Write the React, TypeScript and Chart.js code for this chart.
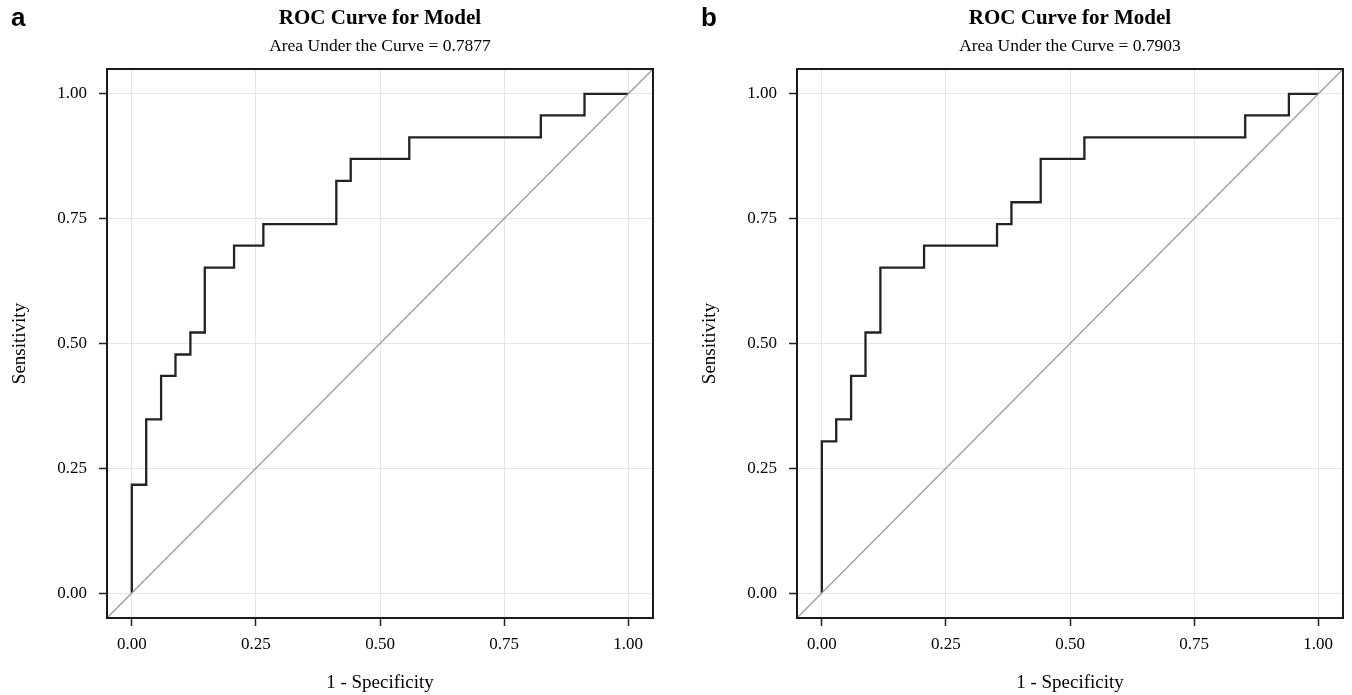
import React, { useEffect, useRef } from "react";
import { Chart, registerables } from "chart.js";

Chart.register(...registerables);

// ---- data ----
const panelLabels = ["a", "b"];
const chartTitle = "ROC Curve for Model";
const aucLabels = ["0.7877", "0.7903"];
const tickValues = [0, 0.25, 0.5, 0.75, 1];
const axisRange = [-0.05, 1.05];
const xAxisTitle = "1 - Specificity";
const yAxisTitle = "Sensitivity";

// Panel a: ROC curve corner points (1 - specificity, sensitivity)
const fprA = [0, 0, 0.029, 0.059, 0.088, 0.118, 0.147, 0.206, 0.265, 0.412, 0.441, 0.559, 0.824, 0.912, 1];
const tprA = [0, 0.217, 0.348, 0.435, 0.478, 0.522, 0.652, 0.696, 0.739, 0.826, 0.87, 0.913, 0.957, 1, 1];

// Panel b
const fprB = [0, 0, 0.029, 0.059, 0.088, 0.118, 0.206, 0.353, 0.382, 0.441, 0.529, 0.853, 0.941, 1];
const tprB = [0, 0.304, 0.348, 0.435, 0.522, 0.652, 0.696, 0.739, 0.783, 0.87, 0.913, 0.957, 1, 1];

const SERIF = "'Liberation Serif', 'Times New Roman', serif";

type RocProps = {
  fpr: number[];
  tpr: number[];
  auc: string;
  width: number;
  rightPad: number;
};

function RocChart({ fpr, tpr, auc, width, rightPad }: RocProps) {
  const ref = useRef<HTMLCanvasElement | null>(null);

  useEffect(() => {
    if (!ref.current) return;
    const framePlugin = {
      id: "frame",
      afterDatasetsDraw(chart: any) {
        const { ctx, chartArea: a } = chart;
        ctx.save();
        ctx.strokeStyle = "#1a1a1a";
        ctx.lineWidth = 2;
        ctx.strokeRect(a.left, a.top, a.right - a.left, a.bottom - a.top);
        ctx.restore();
      },
    };
    const tickFont = { family: SERIF, size: 17 };
    const titleFont = { family: SERIF, size: 19 };
    const chart = new Chart(ref.current, {
      type: "scatter",
      data: {
        datasets: [
          {
            data: axisRange.map((v) => ({ x: v, y: v })),
            showLine: true,
            borderColor: "#9c9c9c",
            borderWidth: 1.3,
            pointRadius: 0,
          },
          {
            data: fpr.map((x, i) => ({ x, y: tpr[i] })),
            showLine: true,
            stepped: "before",
            borderColor: "#222222",
            borderWidth: 2.3,
            pointRadius: 0,
          },
        ],
      },
      options: {
        animation: false,
        responsive: false,
        maintainAspectRatio: false,
        events: [],
        layout: { padding: { left: 0, right: rightPad, top: 0, bottom: 0 } },
        plugins: {
          legend: { display: false },
          tooltip: { enabled: false },
          title: {
            display: true,
            fullSize: false,
            text: chartTitle,
            color: "#000",
            font: { family: SERIF, size: 21, weight: "bold" },
            padding: { top: 6.4, bottom: 3.9 },
          },
          subtitle: {
            display: true,
            fullSize: false,
            text: `Area Under the Curve = ${auc}`,
            color: "#000",
            font: { family: SERIF, size: 17.5 },
            padding: { top: 0, bottom: 12.5 },
          },
        },
        scales: {
          x: {
            type: "linear",
            min: axisRange[0],
            max: axisRange[1],
            afterBuildTicks: (s: any) => {
              s.ticks = tickValues.map((v) => ({ value: v }));
            },
            afterFit: (s: any) => {
              s.height = 77;
            },
            ticks: {
              autoSkip: false,
              maxRotation: 0,
              color: "#000",
              font: tickFont,
              padding: 8.8,
              callback: (v: any) => Number(v).toFixed(2),
            },
            grid: {
              color: "#e6e6e6",
              lineWidth: 1,
              tickColor: "#222",
              tickLength: 8,
              tickWidth: 1.5,
            },
            border: { display: false },
            title: {
              display: true,
              text: xAxisTitle,
              color: "#000",
              font: titleFont,
              padding: { top: 0, bottom: 0.6 },
            },
          },
          y: {
            type: "linear",
            min: axisRange[0],
            max: axisRange[1],
            afterBuildTicks: (s: any) => {
              s.ticks = tickValues.map((v) => ({ value: v }));
            },
            afterFit: (s: any) => {
              s.width = 107;
            },
            ticks: {
              autoSkip: false,
              color: "#000",
              font: tickFont,
              padding: 12,
              callback: (v: any) => Number(v).toFixed(2),
            },
            grid: {
              color: "#e6e6e6",
              lineWidth: 1,
              tickColor: "#222",
              tickLength: 8,
              tickWidth: 1.5,
            },
            border: { display: false },
            title: {
              display: true,
              text: yAxisTitle,
              color: "#000",
              font: titleFont,
              padding: { top: 8.6, bottom: 0 },
            },
          },
        },
      },
      plugins: [framePlugin],
    } as any);
    return () => chart.destroy();
  }, [fpr, tpr, auc, width, rightPad]);

  return <canvas ref={ref} width={width} height={695} style={{ display: "block", width, height: 695 }} />;
}

const labelStyle: React.CSSProperties = {
  position: "absolute",
  top: 2,
  fontFamily: "'Liberation Sans', Arial, sans-serif",
  fontWeight: "bold",
  fontSize: 26,
  lineHeight: "30px",
  color: "#000",
};

export default function App() {
  return (
    <div
      style={{
        position: "fixed",
        left: 0,
        top: 0,
        width: 1352,
        height: 695,
        background: "#fff",
        overflow: "hidden",
      }}
    >
      <div style={{ position: "absolute", left: 0, top: 0 }}>
        <RocChart fpr={fprA} tpr={tprA} auc={aucLabels[0]} width={690} rightPad={37} />
      </div>
      <div style={{ position: "absolute", left: 690, top: 0 }}>
        <RocChart fpr={fprB} tpr={tprB} auc={aucLabels[1]} width={662} rightPad={9} />
      </div>
      <div style={{ ...labelStyle, left: 11 }}>{panelLabels[0]}</div>
      <div style={{ ...labelStyle, left: 701 }}>{panelLabels[1]}</div>
    </div>
  );
}
